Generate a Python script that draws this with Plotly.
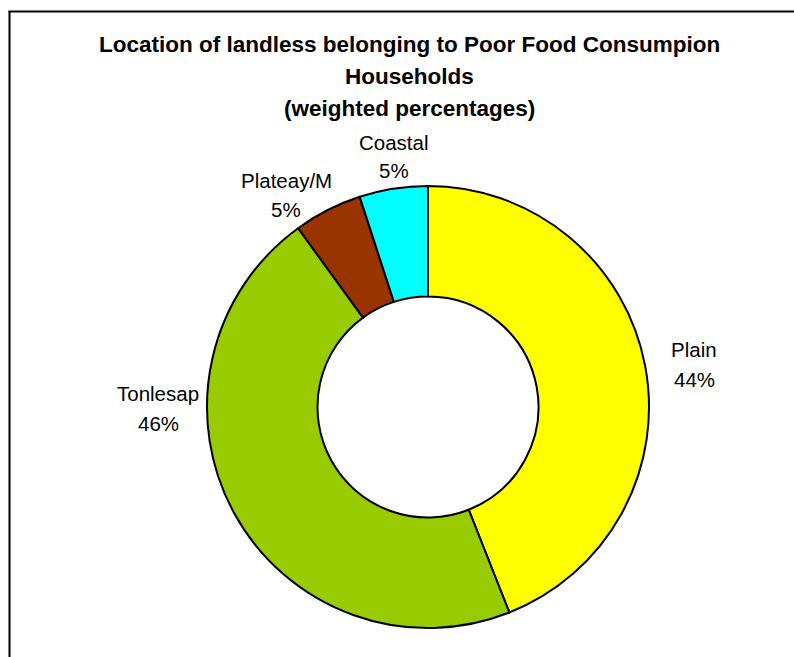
import plotly.graph_objects as go

# Share of landless poor-food-consumption households by zone
zones = ["Plain", "Tonlesap", "Plateay/M", "Coastal"]
shares = [44, 46, 5, 5]
colors = ["#FFFF00", "#99CC00", "#993300", "#00FFFF"]

W, H = 794, 657
FONT = "Liberation Sans, Arial, sans-serif"


def px(x):
    return x / W


def py(y):
    return 1 - y / H


# pie occupies a square box (pixel extents) centred at (428, 407)
cx, cy, r = 428, 407, 221

fig = go.Figure()
fig.add_trace(go.Pie(
    labels=zones,
    values=shares,
    marker=dict(colors=colors, line=dict(color="black", width=2)),
    hole=0.5,
    sort=False,
    direction="clockwise",
    rotation=0,
    textinfo="none",
    hoverinfo="label+percent",
    showlegend=False,
    domain=dict(x=[px(cx - r), px(cx + r)], y=[py(cy + r), py(cy - r)]),
))

# label anchors (pixel centres of name line / percent line)
label_pos = {
    "Plain": (694, 349, 379),
    "Tonlesap": (158, 393, 423),
    "Plateay/M": (286, 180, 209),
    "Coastal": (394, 142, 171),
}
total = sum(shares)
annotations = []
for name, val in zip(zones, shares):
    x, y1, y2 = label_pos[name]
    for txt, yy in ((name, y1), (f"{round(100 * val / total)}%", y2)):
        annotations.append(dict(
            x=px(x), y=py(yy), xref="paper", yref="paper",
            text=txt, showarrow=False, xanchor="center", yanchor="middle",
            font=dict(family=FONT, size=20.5, color="black"),
        ))

title_lines = [
    ("Location of landless belonging to Poor Food Consumpion", 44),
    ("Households", 76),
    ("(weighted percentages)", 108),
]
for txt, yy in title_lines:
    annotations.append(dict(
        x=px(409), y=py(yy), xref="paper", yref="paper",
        text=f"<b>{txt}</b>", showarrow=False, xanchor="center", yanchor="middle",
        font=dict(family=FONT, size=22.5, color="black"),
    ))

# chart frame (left and top edges)
shapes = [
    dict(type="line", xref="paper", yref="paper", x0=px(9.5), x1=px(9.5), y0=py(11), y1=0,
         line=dict(color="black", width=2)),
    dict(type="line", xref="paper", yref="paper", x0=px(8.5), x1=1, y0=py(11.5), y1=py(11.5),
         line=dict(color="black", width=2)),
]

fig.update_layout(
    width=W, height=H,
    margin=dict(l=0, r=0, t=0, b=0),
    paper_bgcolor="white",
    plot_bgcolor="white",
    annotations=annotations,
    shapes=shapes,
)

fig.write_html("out.html")
